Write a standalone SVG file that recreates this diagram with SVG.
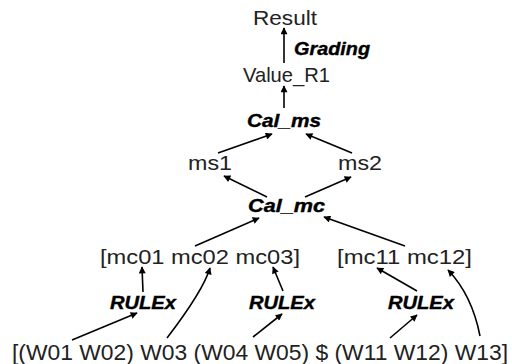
<svg xmlns="http://www.w3.org/2000/svg" width="512" height="364" viewBox="0 0 512 364">
<style>
.t{font-family:"Liberation Sans",Arial,sans-serif;font-size:21px;fill:#222}
.w{font-size:22px}
.b{font-family:"Liberation Sans",Arial,sans-serif;font-size:19px;font-weight:bold;font-style:italic;fill:#000;stroke:#000;stroke-width:0.4}
.c{stroke:#000;stroke-width:1.6;fill:none;marker-end:url(#ah)}
</style>
<defs>
<marker id="ah" viewBox="0 0 10 10" refX="9" refY="5" markerWidth="8" markerHeight="7" markerUnits="userSpaceOnUse" orient="auto">
<path d="M0,0 L10,5 L0,10 Z" fill="#000"/>
</marker>
</defs>
<rect width="512" height="364" fill="#fff"/>
<g id="connectors">
<line class="c" x1="284" y1="63" x2="284" y2="28"/>
<line class="c" x1="284" y1="108" x2="284" y2="86"/>
<line class="c" x1="218" y1="153" x2="272" y2="134"/>
<line class="c" x1="352" y1="153" x2="306" y2="134"/>
<line class="c" x1="267" y1="197" x2="224" y2="176"/>
<line class="c" x1="305" y1="197" x2="351" y2="177"/>
<line class="c" x1="195" y1="246" x2="259" y2="218"/>
<line class="c" x1="405" y1="246" x2="324" y2="217"/>
<line class="c" x1="143" y1="292" x2="142" y2="267"/>
<line class="c" x1="283" y1="291" x2="273" y2="267"/>
<line class="c" x1="417" y1="291" x2="377" y2="268"/>
<line class="c" x1="72" y1="340" x2="137" y2="313"/>
<path class="c" d="M167,338 Q203,291 210,268"/>
<line class="c" x1="253" y1="337" x2="282" y2="314"/>
<line class="c" x1="390" y1="338" x2="417" y2="315"/>
<path class="c" d="M480,336 Q472,295 448,270"/>
</g>
<g id="result"><text class="t" x="253" y="25" textLength="64" lengthAdjust="spacingAndGlyphs">Result</text></g>
<g id="grading"><text class="b" x="294" y="55" textLength="76" lengthAdjust="spacingAndGlyphs">Grading</text></g>
<g id="value_r1"><text class="t" x="243" y="82" textLength="87" lengthAdjust="spacingAndGlyphs">Value_R1</text></g>
<g id="cal_ms"><text class="b" x="247" y="127" textLength="74" lengthAdjust="spacingAndGlyphs">Cal_ms</text></g>
<g id="ms1"><text class="t" x="188" y="170" textLength="44" lengthAdjust="spacingAndGlyphs">ms1</text></g>
<g id="ms2"><text class="t" x="338" y="170" textLength="44" lengthAdjust="spacingAndGlyphs">ms2</text></g>
<g id="cal_mc"><text class="b" x="248" y="212" textLength="77" lengthAdjust="spacingAndGlyphs">Cal_mc</text></g>
<g id="mc0"><text class="t" x="100" y="264" textLength="200" lengthAdjust="spacingAndGlyphs">[mc01 mc02 mc03]</text></g>
<g id="mc1"><text class="t" x="337" y="264" textLength="135" lengthAdjust="spacingAndGlyphs">[mc11 mc12]</text></g>
<g id="rule1"><text class="b" x="110" y="309" textLength="66" lengthAdjust="spacingAndGlyphs">RULEx</text></g>
<g id="rule2"><text class="b" x="249" y="309" textLength="66" lengthAdjust="spacingAndGlyphs">RULEx</text></g>
<g id="rule3"><text class="b" x="388" y="309" textLength="66" lengthAdjust="spacingAndGlyphs">RULEx</text></g>
<g id="words"><text class="t w" x="12" y="360" textLength="496" lengthAdjust="spacingAndGlyphs">[(W01 W02) W03 (W04 W05) $ (W11 W12) W13]</text></g>
</svg>
